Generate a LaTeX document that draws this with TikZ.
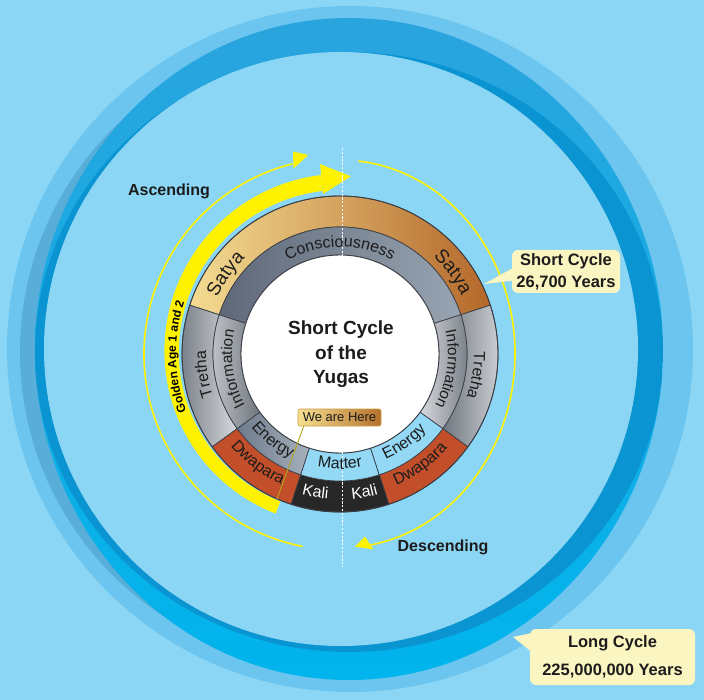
\documentclass[tikz,border=0pt]{standalone}
\usepackage{fontspec}
\setmainfont{Liberation Sans}
\usetikzlibrary{decorations.text}
\definecolor{bg}{HTML}{8CD6F5}
\definecolor{halo}{HTML}{6CC5EE}
\definecolor{muted}{HTML}{58ADD9}
\definecolor{ringtop}{HTML}{2AA4DD}
\definecolor{ringbot}{HTML}{00B4EC}
\definecolor{ringdark}{HTML}{0A94D1}
\definecolor{yel}{HTML}{FFF200}
\definecolor{segline}{HTML}{3B3E44}
\definecolor{satL}{HTML}{F4DC92}
\definecolor{satM}{HTML}{D4A35E}
\definecolor{satR}{HTML}{B4682A}
\definecolor{metD}{HTML}{70767F}
\definecolor{metL}{HTML}{D6D9DD}
\definecolor{conL}{HTML}{5E6879}
\definecolor{conM}{HTML}{B5BAC1}
\definecolor{conR}{HTML}{98A4B1}
\definecolor{enL}{HTML}{6E7B8D}
\definecolor{enR}{HTML}{A6B0BC}
\definecolor{dwa}{HTML}{C24F2A}
\definecolor{kali}{HTML}{272727}
\definecolor{matter}{HTML}{93D9F5}
\definecolor{callout}{HTML}{FBF5C1}
\definecolor{txt}{HTML}{1C1C1C}
\definecolor{hereL}{HTML}{F5DF90}
\definecolor{hereR}{HTML}{B5712C}
\definecolor{herebd}{HTML}{C9A040}
\definecolor{olive}{HTML}{B5A41C}
\newcommand\fCon{\fontsize{16}{16}\selectfont}
\newcommand\fSat{\fontsize{19}{19}\selectfont}
\newcommand\fRing{\fontsize{16}{16}\selectfont}
\newcommand\fInf{\fontsize{15.5}{15.5}\selectfont}
\newcommand\fGold{\bfseries\fontsize{12}{12}\selectfont}
\newcommand\ringseg[5]{%
  \path[#5] (#1:#4) arc[start angle=#1,end angle=#2,radius=#4]
    -- (#2:#3) arc[start angle=#2,end angle=#1,radius=#3] -- cycle;}
\newcommand\cwtext[6]{%
  \path[decorate,decoration={text along path,text align=center,
    text color=#5,text={|#4|#6}}]
    (#1+#3:#2) arc[start angle=#1+#3,end angle=#1-#3,radius=#2];}
\newcommand\ccwtext[6]{%
  \path[decorate,decoration={text along path,text align=center,
    text color=#5,text={|#4|#6}}]
    (#1-#3:#2) arc[start angle=#1-#3,end angle=#1+#3,radius=#2];}
\begin{document}
\begin{tikzpicture}[x=1pt,y=1pt,
  segbd/.style={draw=segline,line width=0.7pt},
  calloutbox/.style={fill=callout,rounded corners=6pt,inner sep=0pt,align=center,text=txt},
  arrowlabel/.style={font=\bfseries\fontsize{16}{16}\selectfont,text=txt},
  thinyel/.style={draw=yel,line width=1.6pt}]
\useasboundingbox (0,0) rectangle (704,-700);
\clip (0,0) rectangle (704,-700);
\fill[bg] (0,0) rectangle (704,-700);
% long cycle ring
\fill[halo] (350,-349) circle (343);
\fill[muted] (335,-352) circle (315);
\shade[top color=ringtop,bottom color=ringbot] (349,-349) ellipse [x radius=314,y radius=331];
\begin{scope}
  \clip (349,-349) ellipse [x radius=314,y radius=331];
  \fill[ringdark] (349,-352) ellipse [x radius=314,y radius=300];
\end{scope}
\fill[bg] (341,-349) circle (297);

\begin{scope}[shift={(340,-354)}]
  % golden age thick arrow
  \fill[yel] plot[domain=96:248,samples=60] (\x:{180-(\x-96)*8/152})
     -- plot[domain=248:96,samples=60] (\x:{164-(\x-96)*5/152}) -- cycle;
  \fill[yel] (96:161) -- (86.5:178) -- (96:191) -- cycle;
  \cwtext{181}{164}{45}{\fGold}{black}{Golden Age 1 and 2}
  % ascending thin arrow
  \draw[thinyel] (259:196) arc[start angle=259,end angle=104,radius=196];
  \fill[yel] (-31.7,199) -- (-47,202.5) -- (-46.5,185.5) -- cycle;
  % descending thin arrow
  \draw[thinyel] (18.29,192.94) arc[start angle=84,end angle=-80,x radius=175,y radius=194];
  \fill[yel] (15,-192.7) -- (25,-182.7) -- (33.3,-195.3) -- cycle;
  % outer ring: yugas
  \ringseg{18}{162}{127}{158}{left color=satL,middle color=satM,right color=satR,segbd}
  \ringseg{162}{216}{127}{158}{left color=metD,right color=metL,segbd}
  \ringseg{-36}{18}{127}{158}{left color=metD,right color=metL,segbd}
  \ringseg{216}{252}{127}{158}{fill=dwa,segbd}
  \ringseg{288}{324}{127}{158}{fill=dwa,segbd}
  \ringseg{252}{288}{127}{158}{fill=kali,segbd}
  % inner ring
  \ringseg{18}{162}{99}{127}{left color=conL,middle color=conM,right color=conR,segbd}
  \ringseg{162}{216}{99}{127}{left color=metL!85!metD,right color=metD,segbd}
  \ringseg{-36}{18}{99}{127}{left color=metL,right color=metD,segbd}
  \ringseg{216}{252}{99}{127}{left color=enL,right color=enR,segbd}
  \ringseg{252}{288}{99}{127}{fill=matter,segbd}
  \ringseg{288}{324}{99}{127}{fill=matter,segbd}
  \fill[white] (0,0) circle (99);
  \draw[segline,line width=0.9pt] (0,0) circle (99) (0,0) circle (158);
  % axis
  \coordinate (dtop) at (2,206);
  \coordinate (dbot) at (2,-213);
  \draw[white,line width=0.9pt,dash pattern=on 2.2pt off 1.6pt] (dtop) -- (dbot);
  % ring labels
  \cwtext{90}{107}{70}{\fCon}{txt}{Consciousness}
  \cwtext{145}{135}{40}{\fSat}{txt}{Satya}
  \cwtext{36}{135}{40}{\fSat}{txt}{Satya}
  \cwtext{188.5}{134}{45}{\fRing}{txt}{Tretha}
  \cwtext{351}{134}{45}{\fRing}{txt}{Tretha}
  \cwtext{188}{108}{50}{\fInf}{txt}{Information}
  \cwtext{352}{108}{50}{\fInf}{txt}{Information}
  \ccwtext{232}{115}{40}{\fRing}{txt}{Energy}
  \ccwtext{306}{115}{40}{\fRing}{txt}{Energy}
  \ccwtext{233}{143}{40}{\fRing}{txt}{Dwapara}
  \ccwtext{306}{143}{40}{\fRing}{txt}{Dwapara}
  \ccwtext{270}{115}{40}{\fRing}{txt}{Matter}
  \ccwtext{260}{145.5}{30}{\fRing}{white}{Kali}
  \ccwtext{280}{145.5}{30}{\fRing}{white}{Kali}
  % title
  \node[font=\bfseries\fontsize{19}{24.5}\selectfont,align=center,text=txt] (title) at (1,-0.5) {Short Cycle\\of the\\Yugas};
  % we are here
  \node[left color=hereL,right color=hereR,draw=herebd,line width=0.6pt,rounded corners=2pt,
        minimum width=83,minimum height=17,inner sep=0pt,font=\fontsize{13}{13}\selectfont,text=txt]
        (here) at (-0.5,-63.5) {We are Here};
  \coordinate (herept) at (-63,-145);
  \draw[olive,line width=0.9pt] ([xshift=6pt]here.south west) -- (herept);
\end{scope}

% arrow labels
\node[arrowlabel] (asc) at (169,-191) {Ascending};
\node[arrowlabel] (desc) at (443,-547) {Descending};

% short cycle callout
\node[calloutbox,minimum width=108,minimum height=43,font=\bfseries\fontsize{16.5}{22}\selectfont]
  (short) at (566,-271.5) {Short Cycle\\26,700 Years};
\coordinate (shorttip) at (484,-284);
\fill[callout] ([xshift=2pt,yshift=4pt]short.west) -- (shorttip) -- ([xshift=2pt,yshift=-9pt]short.west) -- cycle;

% long cycle callout
\node[calloutbox,minimum width=165,minimum height=56,font=\bfseries\fontsize{16.5}{28}\selectfont]
  (long) at (612.5,-657) {Long Cycle\\225,000,000 Years};
\coordinate (longtip) at (513,-637);
\fill[callout] ([xshift=2pt,yshift=24pt]long.west) -- (longtip) -- ([xshift=2pt,yshift=5pt]long.west) -- cycle;
\end{tikzpicture}
\end{document}
